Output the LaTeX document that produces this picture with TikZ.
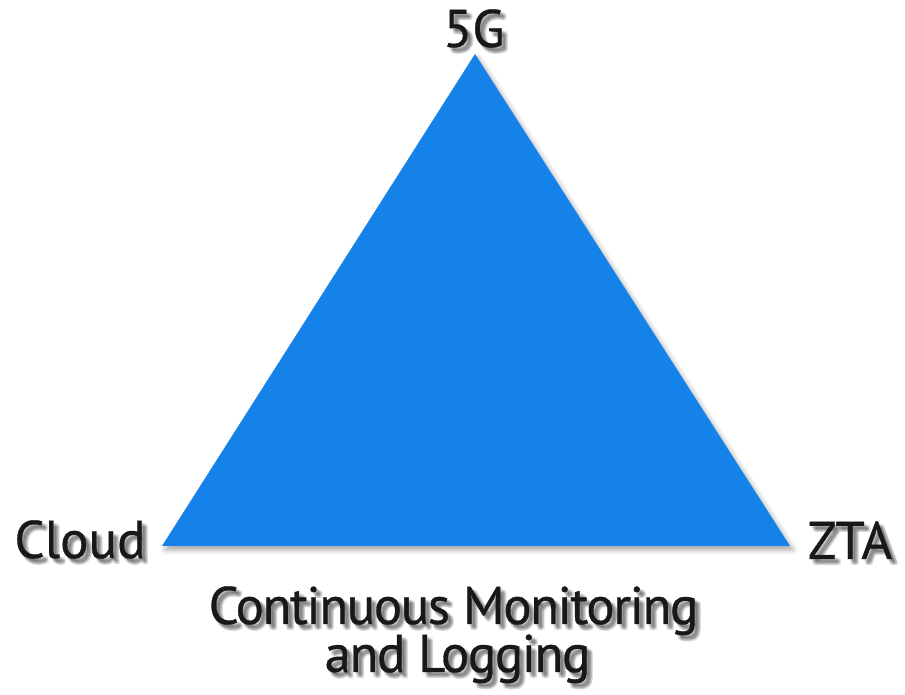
\documentclass[tikz,border=0pt]{standalone}
\usepackage{fontspec}
\setmainfont{PT Sans}[FakeBold=0.6]
\usetikzlibrary{shadows.blur}

\definecolor{triblue}{RGB}{20,130,232}
\definecolor{labelink}{RGB}{24,24,24}

\tikzset{
  lbl/.style={font=\fontsize{53}{58}\selectfont, text=labelink, inner sep=0pt, anchor=base},
  tight/.style={font=\fontsize{53}{58}\selectfont\addfontfeature{LetterSpace=-2.8}},
  tri/.style={fill=triblue, blur shadow={shadow xshift=3pt, shadow yshift=-4pt,
      shadow blur radius=5pt, shadow opacity=35}},
}

% label with a soft drop shadow: name, position, extra style, text
\newcommand{\shadedlabel}[4]{%
  \foreach \dx/\dy in {2/-2,3/-3,4/-4,5/-5,6/-6,3/-5,5/-3,4/-6,6/-4}{%
    \node[lbl, #3, text=black, opacity=0.07] at ([shift={(\dx pt,\dy pt)}]#2) {#4};
  }
  \node[lbl, #3] (#1) at (#2) {#4};
}

\begin{document}
\begin{tikzpicture}[x=1pt,y=1pt]
  \useasboundingbox (0,0) rectangle (905,695);

  % triangle corners
  \coordinate (apex)  at (475,641);
  \coordinate (left)  at (162,149);
  \coordinate (right) at (790,149);

  \fill[tri] (apex) -- (left) -- (right) -- cycle;

  % corner and base labels
  \shadedlabel{fiveg}{474,648}{}{5G}
  \shadedlabel{cloud}{80,137}{}{Cloud}
  \shadedlabel{zta}{850,136}{}{ZTA}
  \shadedlabel{cmlA}{453.5,71}{tight}{Continuous Monitoring}
  \shadedlabel{cmlB}{457.5,23}{tight}{and Logging}
\end{tikzpicture}
\end{document}
